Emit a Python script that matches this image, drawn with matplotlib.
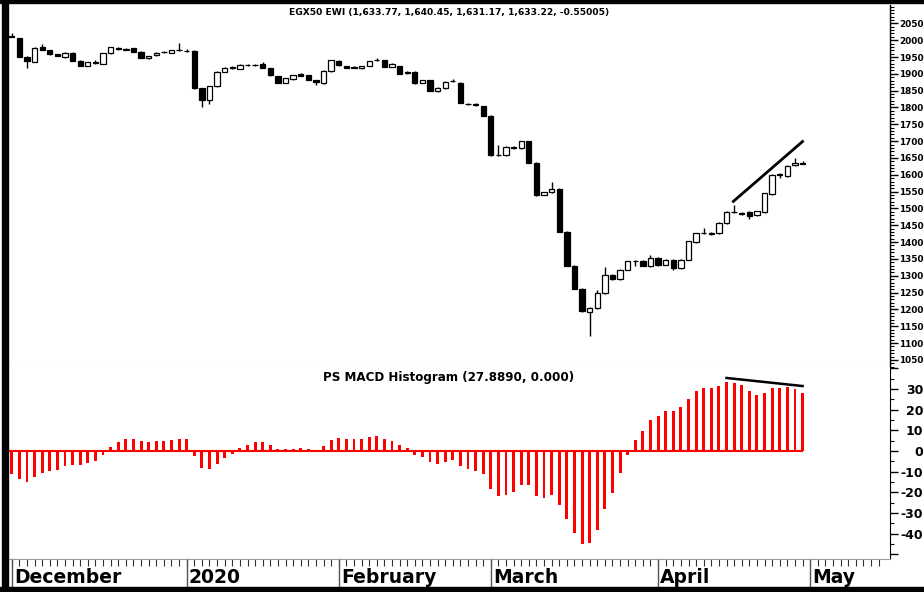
import matplotlib
matplotlib.use("Agg")
import matplotlib.pyplot as plt
from matplotlib.patches import Rectangle
from matplotlib.ticker import FixedLocator, FuncFormatter
import matplotlib.transforms as mtransforms

plt.rcParams["axes.unicode_minus"] = False

# Daily candles, Dec 2019 - end of April 2020 (one entry per trading day)
opens = [2013, 2005, 1951, 1936, 1980, 1970, 1959, 1949, 1963, 1939,
         1924, 1933, 1929, 1961, 1977, 1971, 1977, 1966, 1946, 1955,
         1964, 1963, 1970, 1969, 1969, 1857, 1822, 1864, 1906, 1918,
         1914, 1925, 1926, 1929, 1916, 1893, 1874, 1884, 1900, 1897,
         1882, 1872, 1908, 1939, 1923, 1918, 1916, 1924, 1940, 1941,
         1921, 1923, 1901, 1906, 1874, 1882, 1849, 1857, 1878, 1874,
         1810, 1808, 1804, 1776, 1659, 1659, 1684, 1679, 1699, 1636,
         1541, 1548, 1559, 1431, 1330, 1262, 1192, 1204, 1249, 1302,
         1289, 1318, 1345, 1345, 1329, 1353, 1333, 1348, 1323, 1348,
         1400, 1426, 1426, 1426, 1457, 1489, 1487, 1490, 1480, 1490,
         1542, 1598, 1595, 1629, 1633.77]
highs = [2020, 2007, 1953, 1980, 1990, 1971, 1960, 1964, 1965, 1940,
         1935, 1940, 1962, 1981, 1979, 1976, 1978, 1967, 1954, 1964,
         1969, 1971, 1992, 1974, 1970, 1858, 1865, 1907, 1919, 1924,
         1930, 1928, 1929, 1934, 1917, 1894, 1888, 1897, 1903, 1898,
         1883, 1910, 1942, 1940, 1924, 1924, 1924, 1939, 1946, 1942,
         1933, 1924, 1907, 1907, 1883, 1883, 1860, 1878, 1885, 1875,
         1814, 1812, 1805, 1777, 1690, 1685, 1686, 1700, 1700, 1637,
         1549, 1579, 1560, 1432, 1332, 1263, 1206, 1259, 1326, 1304,
         1319, 1344, 1347, 1346, 1362, 1355, 1349, 1350, 1349, 1404,
         1427, 1443, 1429, 1459, 1491, 1509, 1489, 1491, 1493, 1546,
         1601, 1604, 1628, 1649, 1640.45]
lows = [2008, 1950, 1916, 1934, 1970, 1957, 1952, 1948, 1938, 1922,
        1922, 1928, 1928, 1960, 1972, 1970, 1965, 1946, 1944, 1954,
        1962, 1962, 1968, 1965, 1855, 1800, 1810, 1862, 1905, 1914,
        1913, 1922, 1923, 1917, 1894, 1872, 1872, 1883, 1893, 1881,
        1867, 1870, 1906, 1924, 1917, 1916, 1915, 1923, 1938, 1920,
        1919, 1899, 1899, 1871, 1872, 1849, 1847, 1856, 1876, 1812,
        1806, 1804, 1774, 1657, 1657, 1657, 1678, 1677, 1634, 1538,
        1539, 1546, 1429, 1328, 1260, 1192, 1122, 1202, 1247, 1287,
        1287, 1316, 1328, 1329, 1327, 1330, 1331, 1318, 1321, 1346,
        1398, 1423, 1421, 1424, 1455, 1486, 1482, 1470, 1478, 1488,
        1540, 1590, 1593, 1627, 1631.17]
closes = [2010, 1951, 1938, 1978, 1972, 1958, 1953, 1963, 1939, 1924,
          1934, 1935, 1961, 1980, 1973, 1975, 1966, 1948, 1953, 1963,
          1965, 1970, 1971, 1968, 1857, 1822, 1864, 1906, 1918, 1919,
          1926, 1926, 1925, 1918, 1896, 1874, 1887, 1896, 1895, 1883,
          1875, 1909, 1941, 1925, 1918, 1919, 1923, 1938, 1941, 1921,
          1928, 1900, 1906, 1872, 1882, 1850, 1859, 1877, 1879, 1814,
          1811, 1809, 1776, 1659, 1660, 1684, 1679, 1699, 1636, 1540,
          1548, 1559, 1431, 1330, 1262, 1194, 1204, 1249, 1303, 1289,
          1318, 1343, 1343, 1330, 1353, 1333, 1348, 1323, 1348, 1403,
          1426, 1428, 1425, 1458, 1490, 1490, 1484, 1479, 1492, 1545,
          1600, 1601, 1627, 1636, 1633.22]

# PS MACD histogram
macd_hist = [-11.1, -13.5, -15.1, -12.7, -10.8, -9.8, -9.0, -7.4, -6.8, -6.8,
             -5.6, -4.7, -1.9, 2.1, 4.2, 5.6, 6.0, 5.0, 4.5, 5.0,
             5.0, 5.3, 5.6, 5.6, -2.3, -8.2, -8.7, -6.3, -3.5, -1.4,
             1.6, 2.9, 4.3, 4.3, 3.1, 0.8, 0.8, 1.0, 1.4, 1.2,
             0.5, 2.3, 5.3, 6.3, 6.0, 6.0, 6.0, 6.6, 7.2, 6.0,
             5.0, 3.1, 1.4, -1.8, -3.1, -5.5, -6.3, -5.2, -4.3, -7.2,
             -8.9, -9.5, -11.1, -18.4, -21.7, -21.3, -19.8, -16.3, -16.6, -21.6,
             -22.5, -21.1, -26.1, -33.0, -39.6, -44.9, -44.3, -38.0, -28.0, -20.1,
             -10.8, -1.8, 5.5, 9.8, 14.8, 17.1, 19.5, 19.5, 21.1, 25.1,
             28.8, 30.4, 30.4, 31.6, 33.5, 33.0, 31.9, 29.1, 27.2, 27.9,
             30.4, 30.4, 30.8, 30.1, 27.889]

# month starts (trading-day index) and names
month_starts = [0, 23, 43, 63, 85, 105]
month_names = ["December", "2020", "February", "March", "April", "May"]
n_slots = 115

# hand-drawn trend lines
trend_price_x, trend_price_y = [94.9, 104.0], [1521, 1699]
trend_macd_x, trend_macd_y = [94.0, 104.0], [35.3, 31.4]

title_top = "EGX50 EWI (1,633.77, 1,640.45, 1,631.17, 1,633.22, -0.55005)"
title_bot = "PS MACD Histogram (27.8890, 0.000)"

W, H = 924, 592
fig = plt.figure(figsize=(W / 100, H / 100), dpi=100)
ax1 = fig.add_axes([8 / W, 1 - 367 / H, 882 / W, 362 / H])
ax2 = fig.add_axes([8 / W, 1 - 559 / H, 882 / W, 192 / H], sharex=ax1)

x = list(range(len(closes)))
assert len(opens) == len(highs) == len(lows) == len(closes) == len(macd_hist)

# candles
ax1.vlines(x, lows, highs, color="black", lw=1.0, zorder=1)
bottoms = [min(o, c) for o, c in zip(opens, closes)]
heights = [abs(c - o) for o, c in zip(opens, closes)]
faces = ["white" if c >= o else "black" for o, c in zip(opens, closes)]
ax1.bar(x, heights, bottom=bottoms, width=0.7, color=faces,
        edgecolor="black", linewidth=0.9, zorder=2)
ax1.plot(trend_price_x, trend_price_y, color="black", lw=2, zorder=3)

ax1.set_xlim(-0.5, n_slots + 0.5)
ax1.set_ylim(1029, 2104.5)

for sp in ["left", "top"]:
    ax1.spines[sp].set_visible(False)
ax1.spines["bottom"].set_color("#cccccc")
ax1.spines["right"].set_linewidth(1)
ax1.yaxis.tick_right()
ax1.yaxis.set_major_locator(FixedLocator(list(range(1050, 2051, 50))))
ax1.yaxis.set_minor_locator(FixedLocator(list(range(1030, 2101, 10))))
ax1.tick_params(axis="y", which="major", length=6, width=1, pad=0.8,
                labelsize=6.4)
ax1.tick_params(axis="y", which="minor", length=3, width=0.8)
for lb in ax1.get_yticklabels():
    lb.set_fontweight("bold")
ax1.tick_params(axis="x", which="both", bottom=False, labelbottom=False)
ax1.text(0.5, 1 - 7 / 362, title_top, transform=ax1.transAxes, ha="center",
         va="center", fontsize=6.6, fontweight="bold")

# MACD histogram
ax2.bar(x, macd_hist, width=0.38, color="#ff0000", zorder=2)
ax2.hlines(0, x[0] - 0.5, x[-1], color="#ff0000", lw=1.5, zorder=2)
ax2.plot(trend_macd_x, trend_macd_y, color="black", lw=1.8, zorder=3)
ax2.set_ylim(-52.2, 40.6)
ax2.spines["left"].set_visible(False)
ax2.spines["top"].set_visible(False)
ax2.spines["bottom"].set_color("#999999")
ax2.spines["bottom"].set_linewidth(0.8)
ax2.yaxis.tick_right()
ax2.yaxis.set_major_locator(FixedLocator(list(range(-50, 41, 10))))
ax2.yaxis.set_minor_locator(FixedLocator(list(range(-50, 41, 5))))
ax2.yaxis.set_major_formatter(FuncFormatter(
    lambda v, p: "" if v in (-50, 40) else "%d" % v))
ax2.tick_params(axis="y", which="major", length=6, width=1, pad=18,
                labelsize=9)
ax2.tick_params(axis="y", which="minor", length=3, width=0.8)
for lb in ax2.get_yticklabels():
    lb.set_fontweight("bold")
    lb.set_horizontalalignment("right")
ax2.text(0.5, 1 - 10 / 192, title_bot, transform=ax2.transAxes, ha="center",
         va="center", fontsize=8.6, fontweight="bold")

# daily ticks along the bottom
ax2.xaxis.set_major_locator(FixedLocator(list(range(0, n_slots))))
ax2.tick_params(axis="x", which="major", length=5, width=0.8, color="#333333",
                labelbottom=False)

trans = mtransforms.blended_transform_factory(ax2.transData, ax2.transAxes)
for m, name in zip(month_starts, month_names):
    ax2.plot([m, m], [0, -29 / 192], transform=trans, clip_on=False,
             color="#555555", lw=1)
    ax2.text(m + 0.3, -0.095, name, transform=trans, ha="left", va="center",
             fontsize=13.5, fontweight="bold")

# black frame around the chart
fig.add_artist(Rectangle((0, 1 - 3 / H), 1, 3 / H, transform=fig.transFigure,
                         color="black"))
fig.add_artist(Rectangle((2 / W, 0), 6 / W, 1, transform=fig.transFigure,
                         color="black"))
fig.add_artist(Rectangle((0, 0), 1, 5 / H, transform=fig.transFigure,
                         color="black"))

fig.savefig("out.png", dpi=100)
